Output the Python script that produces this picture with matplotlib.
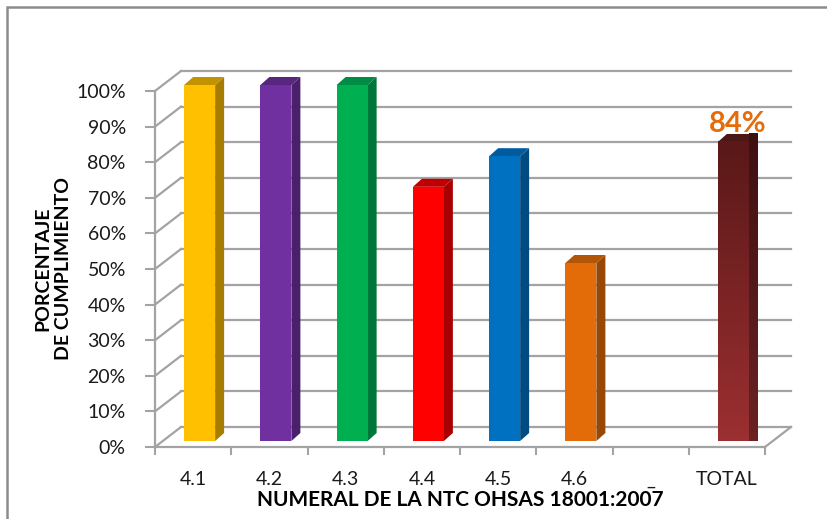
import matplotlib.pyplot as plt
import numpy as np
from matplotlib.patches import Polygon, Rectangle
from matplotlib.colors import LinearSegmentedColormap

plt.rcParams['font.family'] = ['Lato', 'DejaVu Sans']

categorias = ['4.1', '4.2', '4.3', '4.4', '4.5', '4.6', '_', 'TOTAL']
cumplimiento = [1.00, 1.00, 1.00, 0.714, 0.80, 0.50, np.nan, 0.84]
frentes = ['#FFC000', '#7030A0', '#00B050', '#FF0000', '#0070C0', '#E36C09', None, '#953735']
lados = ['#A67D00', '#4A1F6B', '#00773A', '#A80000', '#004C82', '#984806', None, '#5A1A1A']
techos = ['#C29200', '#58257F', '#008C42', '#C00000', '#005C9E', '#B25507', None, '#4C1616']
etiqueta_total = '84%'
yticks = np.arange(0, 1.01, 0.1)

gris = '#a3a3a3'
W, H = 828, 519
fig = plt.figure(figsize=(W/100, H/100), dpi=100)
ax = fig.add_axes([155/W, 1-447/H, 610/W, 356/H])
n = len(categorias)

# pixel sizes in data units
px = n/610
py = 1/356
wx, wy = 26*px, 20*py      # depth of the walls
fx, fy = 6.5*px, 6*py      # bar front offset
bx, by = 9*px, 8*py        # bar depth
ancho = 31*px

# back wall and left wall gridlines
for y in yticks:
    ax.plot([wx, n+wx], [y+wy, y+wy], color=gris, lw=1.6, zorder=1, clip_on=False)
    ax.plot([0, wx], [y, y+wy], color=gris, lw=1.6, zorder=1, clip_on=False)
ax.plot([n, n+wx], [0, wy], color=gris, lw=1.6, zorder=1, clip_on=False)

grad = np.linspace(0, 1, 100).reshape(-1, 1)
for i, v in enumerate(cumplimiento):
    if np.isnan(v):
        continue
    x0 = i + 0.5 - ancho/2 + fx
    x1 = x0 + ancho
    top = v + fy
    lado = Polygon([(x1, fy), (x1+bx, fy+by), (x1+bx, top+by), (x1, top)],
                   closed=True, fc=lados[i], ec='none', zorder=3, clip_on=False)
    ax.add_patch(lado)
    ax.add_patch(Polygon([(x0, top), (x1, top), (x1+bx, top+by), (x0+bx, top+by)],
                         closed=True, fc=techos[i], ec='none', zorder=3, clip_on=False))
    if categorias[i] == 'TOTAL':
        # gradient: dark at the top, lighter at the bottom
        cmap = LinearSegmentedColormap.from_list('tot', ['#5A1818', '#9B2F31'])
        ax.imshow(grad, extent=[x0, x1, fy, top], origin='upper', cmap=cmap,
                  aspect='auto', zorder=4, clip_on=False)
        cmap2 = LinearSegmentedColormap.from_list('tot2', ['#3E1111', '#6A2224'])
        im = ax.imshow(grad, extent=[x1, x1+bx, fy, top+by], origin='upper', cmap=cmap2,
                       aspect='auto', zorder=3.5, clip_on=False)
        im.set_clip_path(lado)
        ax.text(i + 0.5 + fx + bx/2, top + by - 3*py, etiqueta_total, ha='center', va='bottom',
                fontsize=21, fontweight='bold', color='#E46C0A', zorder=5)
    else:
        ax.add_patch(Rectangle((x0, fy), ancho, v, fc=frentes[i], ec='none', zorder=4, clip_on=False))

ax.set_xlim(0, n)
ax.set_ylim(0, 1)

for s in ['top', 'right']:
    ax.spines[s].set_visible(False)
for s in ['left', 'bottom']:
    ax.spines[s].set_color(gris)
    ax.spines[s].set_linewidth(1.6)
    ax.spines[s].set_zorder(2)

ax.set_yticks(yticks, [f'{int(round(t*100))}%' for t in yticks])
ax.tick_params(axis='y', length=7, width=1.5, color=gris, pad=14, labelsize=14, labelcolor='#1a1a1a')
ax.set_xticks(np.arange(n) + 0.5, categorias)
ax.set_xticks(np.arange(n+1), minor=True)
ax.tick_params(axis='x', which='major', length=0, pad=17, labelsize=14, labelcolor='#1a1a1a')
ax.tick_params(axis='x', which='minor', length=6, width=1.5, color=gris)

ax.set_ylabel('PORCENTAJE\nDE CUMPLIMIENTO', fontsize=14, fontweight='bold', linespacing=1.3)
ax.yaxis.set_label_coords((53-155)/610, 0.5)
ax.yaxis.label.set_va('center')
ax.set_xlabel('NUMERAL DE LA NTC OHSAS 18001:2007', fontsize=15, fontweight='bold')
ax.xaxis.set_label_coords(0.5, -(500-447)/356)
ax.xaxis.label.set_va('center')
ax.patch.set_alpha(0)

# outer chart frame (cut off at right and bottom)
fig.patches.append(Rectangle((7/W, -0.1), 2, 1-7/H+0.1, transform=fig.transFigure,
                             fill=False, ec='#8c8c8c', lw=1.8))

fig.savefig('out.png', dpi=100)
